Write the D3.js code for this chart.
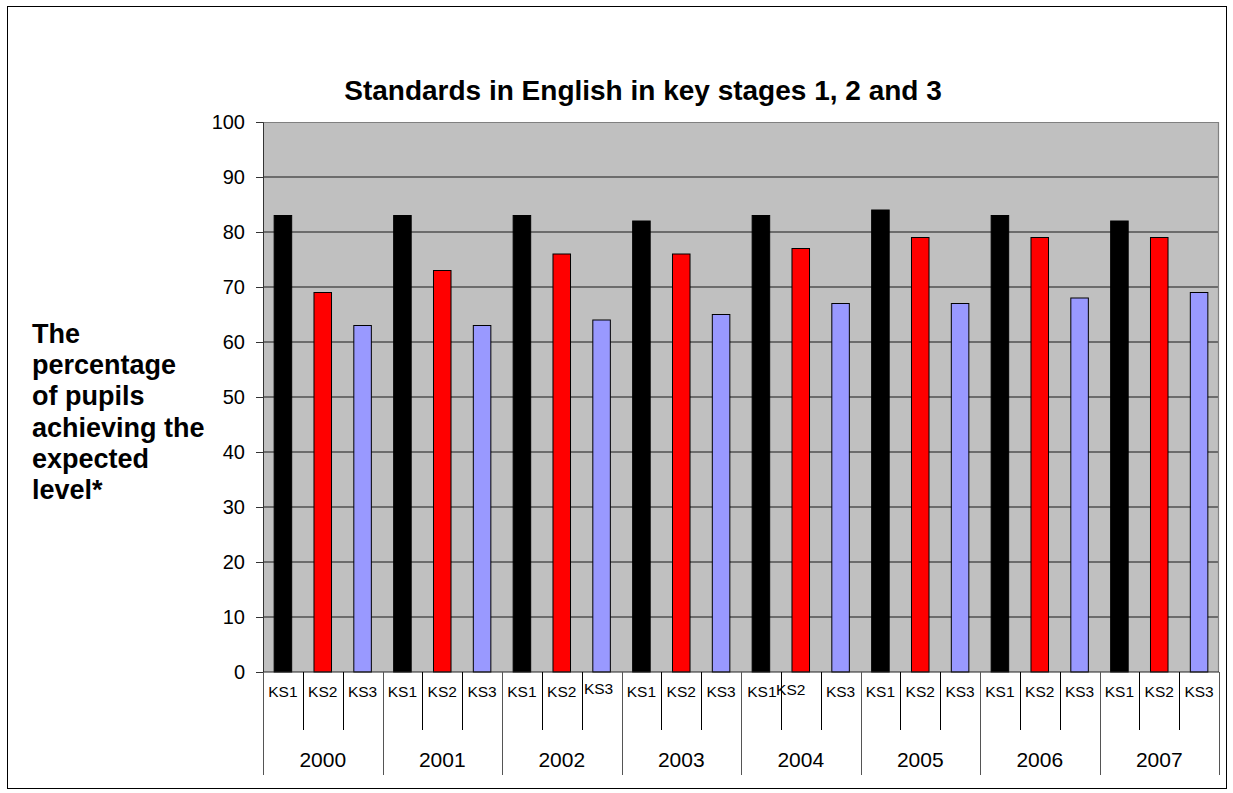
<!DOCTYPE html>
<html lang="en">
<head>
    <meta charset="UTF-8">
    <script src="https://cdnjs.cloudflare.com/ajax/libs/d3/7.8.5/d3.min.js" type="text/JavaScript"></script>
    <style>
        body { margin: 0; background: #fff; }
        svg { display: block; font-family: Arial, "Liberation Sans", sans-serif; }
    </style>
</head>
<body>
<div id="viz">
    <svg width="1233" height="793"></svg>
</div>
<script>
    const years = ['2000', '2001', '2002', '2003', '2004', '2005', '2006', '2007'];
    const stages = ['KS1', 'KS2', 'KS3'];
    const ks1 = [83, 83, 83, 82, 83, 84, 83, 82];
    const ks2 = [69, 73, 76, 76, 77, 79, 79, 79];
    const ks3 = [63, 63, 64, 65, 67, 67, 68, 69];
    const yTicks = [0, 10, 20, 30, 40, 50, 60, 70, 80, 90, 100];
    const titleLines = ['The', 'percentage', 'of pupils', 'achieving the', 'expected', 'level*'];

    const series = {KS1: ks1, KS2: ks2, KS3: ks3};
    const colors = {KS1: '#000000', KS2: '#ff0000', KS3: '#9999ff'};

    const data = [];
    years.forEach((yr, i) => {
        stages.forEach(s => data.push({key: yr + '|' + s, year: yr, stage: s, value: series[s][i]}));
    });

    // a few labels sit slightly off in the original export
    const labelNudge = {'2002|KS3': [-3, -3], '2004|KS1': [1, 0], '2004|KS2': [-10, -2]};

    const plotL = 263, plotR = 1219, plotT = 122, plotB = 672;
    const svg = d3.select('svg');

    // outer chart border
    svg.append('rect')
        .attr('x', 7.5).attr('y', 6.5).attr('width', 1219).attr('height', 782)
        .attr('fill', '#fff').attr('stroke', '#000').attr('stroke-width', 1);

    const xScale = d3.scaleBand().domain(data.map(d => d.key)).range([plotL, plotR]);
    const yearScale = d3.scaleBand().domain(years).range([plotL, plotR]);
    const yScale = d3.scaleLinear().domain([0, 100]).range([plotB, plotT]);

    // plot area
    svg.append('rect')
        .attr('x', plotL).attr('y', plotT).attr('width', plotR - plotL).attr('height', plotB - plotT)
        .attr('fill', '#c0c0c0');

    // gridlines
    svg.append('g').selectAll('line')
        .data(yTicks.filter(v => v > 0 && v < 100)).enter()
        .append('line')
        .attr('x1', plotL).attr('x2', plotR)
        .attr('y1', d => yScale(d)).attr('y2', d => yScale(d))
        .attr('stroke', '#505050').attr('stroke-width', 1.3);

    // plot border top/right
    svg.append('path')
        .attr('d', `M${plotL},${plotT + 0.5}H${plotR - 0.5}V${plotB}`)
        .attr('fill', 'none').attr('stroke', '#808080').attr('stroke-width', 1.2);

    // bars
    const bw = xScale.bandwidth();
    svg.append('g').selectAll('rect')
        .data(data).enter()
        .append('rect')
        .attr('x', d => xScale(d.key) + bw * 0.28)
        .attr('width', bw * 0.44)
        .attr('y', d => yScale(d.value))
        .attr('height', d => yScale(0) - yScale(d.value))
        .attr('fill', d => colors[d.stage])
        .attr('stroke', '#000').attr('stroke-width', 1);

    // y axis
    const yAxis = d3.axisLeft(yScale)
        .tickValues(yTicks)
        .tickSize(7)
        .tickPadding(11);
    const yG = svg.append('g').attr('transform', `translate(${plotL},0)`).call(yAxis);
    yG.select('.domain').attr('stroke', '#333');
    yG.selectAll('.tick line').attr('stroke', '#333');
    yG.selectAll('.tick text').attr('font-size', '20px').attr('fill', '#000')
        .attr('font-family', 'Arial, "Liberation Sans", sans-serif');

    // x axis line
    svg.append('line')
        .attr('x1', plotL).attr('x2', plotR).attr('y1', plotB).attr('y2', plotB)
        .attr('stroke', '#222').attr('stroke-width', 1);

    // inner separators between stages
    svg.append('g').selectAll('line')
        .data(data.filter(d => d.stage !== stages[0])).enter()
        .append('line')
        .attr('x1', d => Math.round(xScale(d.key)) + 0.5)
        .attr('x2', d => Math.round(xScale(d.key)) + 0.5)
        .attr('y1', plotB).attr('y2', 730)
        .attr('stroke', '#000');

    // year separators
    svg.append('g').selectAll('line')
        .data(years.map(y => yearScale(y)).concat([plotR])).enter()
        .append('line')
        .attr('x1', d => Math.round(d) + 0.5).attr('x2', d => Math.round(d) + 0.5)
        .attr('y1', plotB).attr('y2', 775)
        .attr('stroke', '#555');

    // stage labels
    svg.append('g').selectAll('text')
        .data(data).enter()
        .append('text')
        .attr('x', d => xScale(d.key) + bw / 2 + (labelNudge[d.key] ? labelNudge[d.key][0] : 0))
        .attr('y', d => 697 + (labelNudge[d.key] ? labelNudge[d.key][1] : 0))
        .attr('text-anchor', 'middle')
        .attr('font-size', '15.5px')
        .text(d => d.stage);

    // year labels
    svg.append('g').selectAll('text')
        .data(years).enter()
        .append('text')
        .attr('x', d => yearScale(d) + yearScale.bandwidth() / 2)
        .attr('y', 767)
        .attr('text-anchor', 'middle')
        .attr('font-size', '21px')
        .text(d => d);

    // title
    svg.append('text')
        .attr('x', 643).attr('y', 100)
        .attr('text-anchor', 'middle')
        .attr('font-size', '28px').attr('font-weight', 'bold')
        .text('Standards in English in key stages 1, 2 and 3');

    // y axis title
    svg.append('text')
        .attr('font-size', '27px').attr('font-weight', 'bold')
        .selectAll('tspan')
        .data(titleLines).enter()
        .append('tspan')
        .attr('x', 32)
        .attr('y', (d, i) => 343 + i * 31.2)
        .text(d => d);
</script>
</body>
</html>
